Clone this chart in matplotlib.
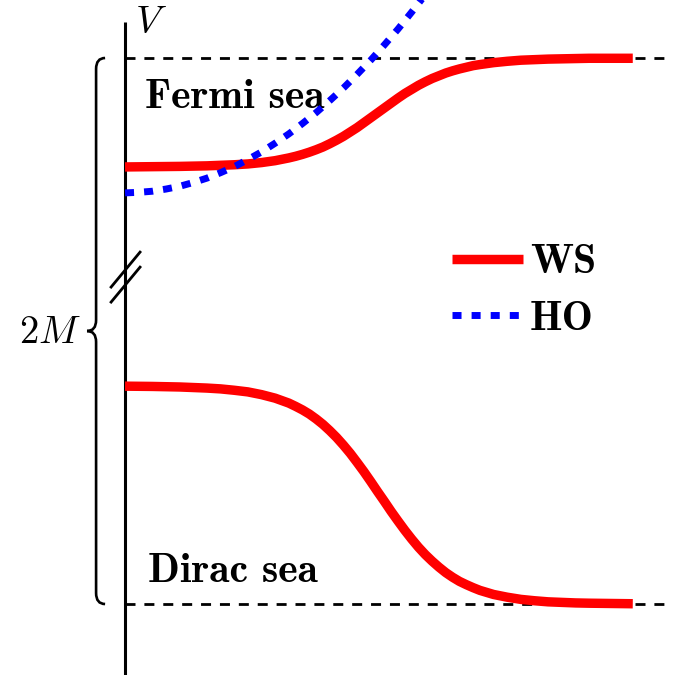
import numpy as np
import matplotlib
matplotlib.use("Agg")
import matplotlib.pyplot as plt
from matplotlib.path import Path
from matplotlib.patches import PathPatch

plt.rcParams['mathtext.fontset'] = 'cm'

# radial coordinate (arbitrary units) and potentials
r_ws = [0.0, 0.1, 0.2, 0.25, 0.3, 0.35, 0.4, 0.45, 0.5, 0.55,
        0.6, 0.625, 0.65, 0.675, 0.7, 0.725, 0.75, 0.775, 0.8, 0.825,
        0.85, 0.875, 0.9, 0.925, 0.95, 0.975, 1.0, 1.025, 1.05, 1.075,
        1.1, 1.125, 1.15, 1.175, 1.2, 1.225, 1.25, 1.275, 1.3,
        1.35, 1.4, 1.45, 1.5, 1.55, 1.6, 1.65, 1.7, 1.86]
ws_upper = [0.601, 0.602, 0.603, 0.604, 0.605, 0.607, 0.609, 0.612, 0.617,
            0.624,
            0.634, 0.640, 0.647, 0.655, 0.664, 0.674, 0.686, 0.699, 0.713,
            0.729, 0.745, 0.763, 0.781, 0.799, 0.817, 0.835, 0.853, 0.870,
            0.885, 0.900, 0.913, 0.925, 0.935, 0.945, 0.953, 0.960, 0.966,
            0.972, 0.976,
            0.983, 0.988, 0.992, 0.994, 0.996, 0.997, 0.998, 0.999, 0.999]
ws_lower = [-0.202, -0.203, -0.205, -0.207, -0.209, -0.212, -0.217, -0.223,
            -0.233, -0.246,
            -0.264, -0.276, -0.289, -0.304, -0.322, -0.342, -0.365, -0.390,
            -0.418, -0.448, -0.481, -0.515, -0.551, -0.588, -0.624, -0.661,
            -0.696, -0.730, -0.762, -0.792, -0.819, -0.843, -0.865, -0.885,
            -0.902, -0.917, -0.929, -0.940, -0.950,
            -0.965, -0.975, -0.983, -0.988, -0.992, -0.994, -0.996, -0.997,
            -0.999]

r_ho = [0.0, 0.05, 0.1, 0.15, 0.2, 0.25, 0.3, 0.35, 0.4, 0.45, 0.5, 0.55,
        0.6, 0.65, 0.7, 0.75, 0.8, 0.85, 0.9, 0.95, 1.0, 1.05, 1.1]
ho = [0.506, 0.508, 0.512, 0.520, 0.530, 0.544, 0.560, 0.580, 0.602, 0.628,
      0.656, 0.688, 0.722, 0.760, 0.800, 0.844, 0.890, 0.940, 0.992, 1.048,
      1.106, 1.168, 1.232]

fermi_level = 1.0
dirac_level = -1.0
r_end = 2.0

labels = ['WS', 'HO']
bold = 'cmb10'

fig = plt.figure(figsize=(6.83, 6.75), dpi=100)
ax = fig.add_axes([0, 0, 1, 1])
ax.set_xlim(-0.458, 2.044)
ax.set_ylim(-1.260, 1.2125)
ax.axis('off')

# V axis with a break
ax.plot([0, 0], [-1.26, 1.132], color='black', lw=2.2, solid_capstyle='butt')
for v0 in [0.161, 0.106]:
    ax.plot([-0.051, 0.055], [v0, v0 + 0.128], color='black', lw=2.0)

# continuum thresholds
for lev in [fermi_level, dirac_level]:
    ax.plot([0, r_end], [lev, lev], color='black', lw=2.0,
            dashes=(3.6, 3.2), zorder=1)

ws_line, = ax.plot(r_ws, ws_upper, color='#ff0000', lw=6.8,
                   solid_capstyle='butt', solid_joinstyle='round', zorder=3,
                   label=labels[0])
ax.plot(r_ws, ws_lower, color='#ff0000', lw=6.8, solid_capstyle='butt',
        solid_joinstyle='round', zorder=3)
ho_line, = ax.plot(r_ho, ho, color='#0000ff', lw=5.0, dashes=(1.3, 1.45),
                   dash_capstyle='butt', zorder=4, label=labels[1])

# brace for the 2M gap
xb, xt, xe = -0.106, -0.139, -0.073
verts = [(xe, fermi_level), (xb, fermi_level), (xb, fermi_level - 0.04),
         (xb, 0.04), (xb, 0.0), (xt, 0.0),
         (xb, 0.0), (xb, -0.04),
         (xb, dirac_level + 0.04), (xb, dirac_level), (xe, dirac_level)]
codes = [Path.MOVETO, Path.CURVE3, Path.CURVE3,
         Path.LINETO, Path.CURVE3, Path.CURVE3,
         Path.CURVE3, Path.CURVE3,
         Path.LINETO, Path.CURVE3, Path.CURVE3]
ax.add_patch(PathPatch(Path(verts, codes), fill=False, lw=1.9,
                       edgecolor='black'))

ax.text(-0.160, -0.044, r'$2M$', fontsize=28, ha='right', va='baseline')
ax.text(0.095, 1.092, r'$V$', fontsize=28, ha='center', va='baseline')
ax.text(0.073, 0.817, 'Fermi sea', family=bold, fontsize=30, va='baseline')
ax.text(0.084, -0.919, 'Dirac sea', family=bold, fontsize=30, va='baseline')

leg = ax.legend(handles=[ws_line, ho_line], loc='upper left',
                bbox_to_anchor=(1.198, 0.319), bbox_transform=ax.transData,
                frameon=False, prop={'family': bold, 'size': 30},
                handlelength=1.70, handletextpad=0.17, labelspacing=0.47,
                borderpad=0, borderaxespad=0)

fig.savefig('out.png', dpi=100)
